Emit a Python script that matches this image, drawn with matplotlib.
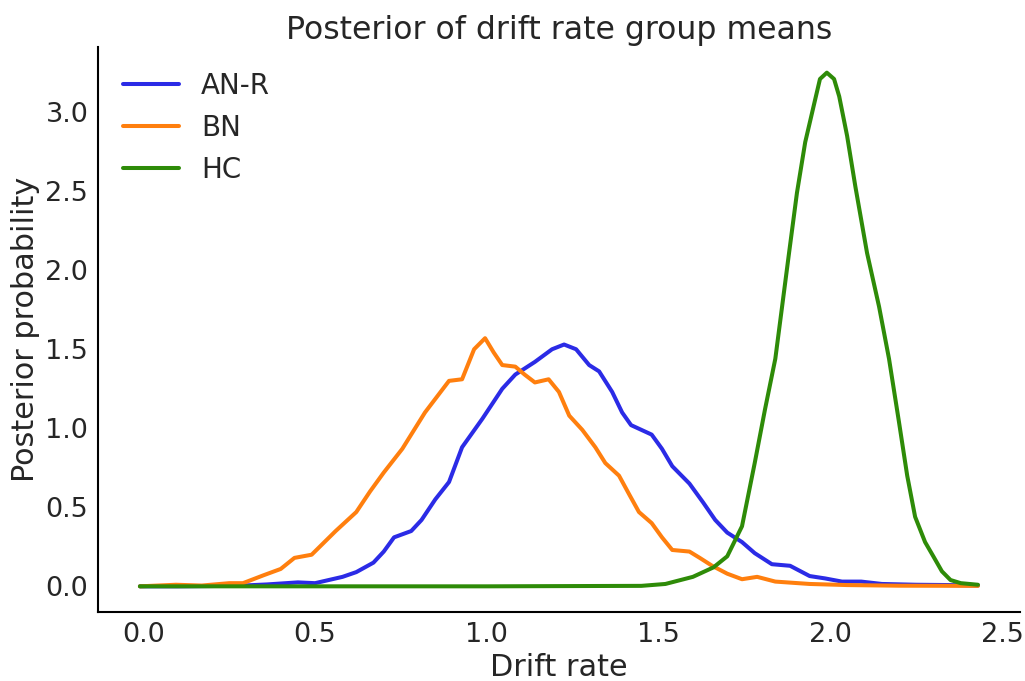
import numpy as np
import matplotlib
matplotlib.use("Agg")
import matplotlib.pyplot as plt
import seaborn as sns

# drift rate grid points and posterior density
anr_x = [-0.01, 0.10, 0.20, 0.29, 0.36, 0.45, 0.50, 0.58, 0.62, 0.67, 0.70,
         0.73, 0.78, 0.81, 0.85, 0.89, 0.928, 0.987, 1.045, 1.083, 1.14,
         1.19, 1.225, 1.26, 1.298, 1.327, 1.365, 1.394, 1.42, 1.45, 1.48,
         1.51, 1.54, 1.59, 1.63, 1.665, 1.70, 1.743, 1.78, 1.83, 1.883,
         1.94, 1.985, 2.034, 2.09, 2.15, 2.25, 2.35, 2.43]
anr_y = [0.00, 0.00, 0.002, 0.005, 0.012, 0.025, 0.02, 0.06, 0.09, 0.15, 0.22,
         0.31, 0.35, 0.42, 0.55, 0.66, 0.88, 1.06, 1.25, 1.34, 1.42,
         1.50, 1.53, 1.50, 1.40, 1.36, 1.23, 1.10, 1.02, 0.99, 0.96,
         0.87, 0.76, 0.65, 0.53, 0.42, 0.34, 0.28, 0.21, 0.14, 0.13,
         0.065, 0.05, 0.03, 0.03, 0.015, 0.01, 0.008, 0.005]

bn_x = [-0.01, 0.095, 0.17, 0.25, 0.29, 0.35, 0.40, 0.44, 0.49, 0.56, 0.62,
        0.66, 0.70, 0.754, 0.82, 0.89, 0.928, 0.963, 0.995, 1.02, 1.045,
        1.083, 1.11, 1.14, 1.18, 1.21, 1.24, 1.278, 1.316, 1.345, 1.385,
        1.415, 1.443, 1.48, 1.51, 1.54, 1.59, 1.62, 1.656, 1.70, 1.743,
        1.787, 1.84, 1.94, 2.05, 2.20, 2.43]
bn_y = [0.00, 0.01, 0.005, 0.02, 0.02, 0.07, 0.11, 0.18, 0.20, 0.35, 0.47,
        0.60, 0.72, 0.87, 1.10, 1.30, 1.31, 1.50, 1.57, 1.48, 1.40,
        1.39, 1.34, 1.29, 1.31, 1.23, 1.08, 0.99, 0.88, 0.78, 0.70,
        0.58, 0.47, 0.40, 0.31, 0.23, 0.22, 0.18, 0.13, 0.08, 0.045,
        0.06, 0.03, 0.015, 0.008, 0.004, 0.003]

hc_x = [-0.01, 0.50, 1.00, 1.45, 1.52, 1.60, 1.66, 1.70, 1.743, 1.78, 1.81,
        1.84, 1.88, 1.903, 1.927, 1.956, 1.97, 1.99, 2.011, 2.026, 2.049,
        2.073, 2.107, 2.142, 2.171, 2.20, 2.224, 2.247, 2.276, 2.30, 2.325,
        2.35, 2.38, 2.43]
hc_y = [0.00, 0.00, 0.00, 0.003, 0.015, 0.06, 0.12, 0.19, 0.38, 0.78, 1.12,
        1.44, 2.11, 2.49, 2.81, 3.08, 3.21, 3.25, 3.21, 3.10, 2.85,
        2.53, 2.11, 1.77, 1.44, 1.04, 0.70, 0.44, 0.28, 0.19, 0.095,
        0.04, 0.02, 0.01]

groups = ["AN-R", "BN", "HC"]
colors = ["#2b2be6", "#ff7f0e", "#2e8b08"]

sns.set_style("white")
plt.rcParams['font.family'] = ['DejaVu Sans']

fig = plt.figure(figsize=(10.25, 6.81), dpi=100)
ax = fig.add_axes([0.0956, 0.1013, 0.8994, 0.8297])

series = [(anr_x, anr_y), (bn_x, bn_y), (hc_x, hc_y)]
for (xs, ys), name, col in zip(series, groups, colors):
    ax.plot(xs, ys, color=col, lw=2.9, label=name,
            solid_joinstyle="round", solid_capstyle="round")

ax.set_xticks([0.0, 0.5, 1.0, 1.5, 2.0, 2.5])
ax.set_yticks([0.0, 0.5, 1.0, 1.5, 2.0, 2.5, 3.0])
ax.tick_params(labelsize=19.5, colors="#262626")
ax.set_xlabel("Drift rate", fontsize=21.8, color="#262626")
ax.set_ylabel("Posterior probability", fontsize=21.8, color="#262626")
ax.set_title("Posterior of drift rate group means", fontsize=22.7, color="#262626")

for s in ["left", "bottom"]:
    ax.spines[s].set_color("black")
    ax.spines[s].set_linewidth(1.5)
sns.despine(ax=ax)

ax.legend(loc="upper left", frameon=False, fontsize=20, handlelength=2.0)

fig.savefig("out.png", dpi=100)
